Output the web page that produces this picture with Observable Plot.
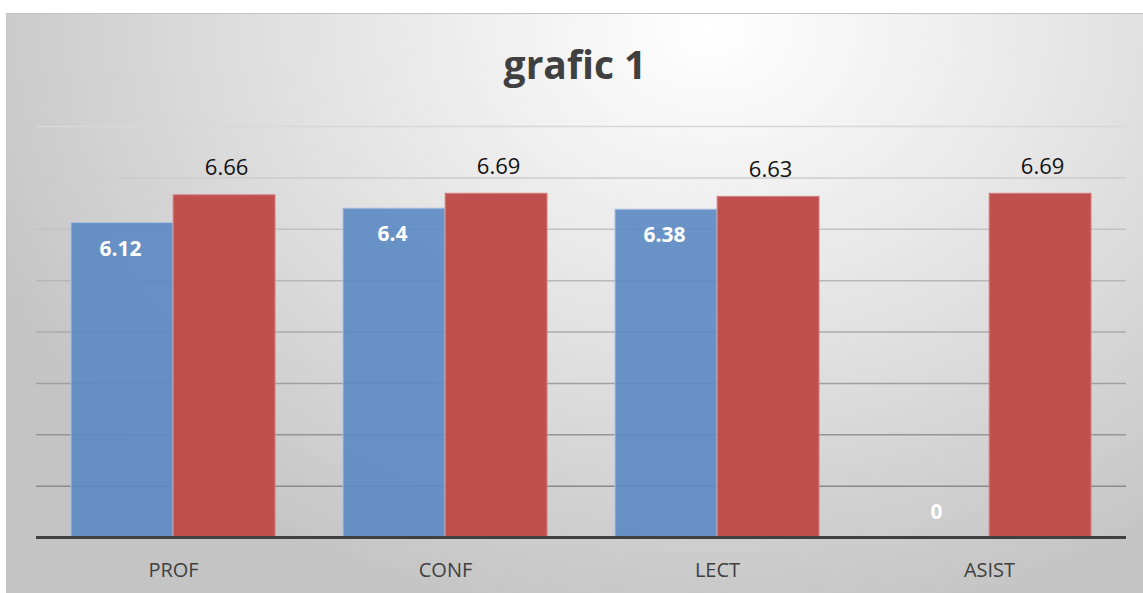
<!DOCTYPE html>
<html>
<head>
<meta charset="utf-8">
<script src="https://cdn.jsdelivr.net/npm/d3@7"></script>
<script src="https://cdn.jsdelivr.net/npm/@observablehq/plot@0.6"></script>
<style>
  html, body { margin: 0; padding: 0; background: #ffffff; width: 1143px; height: 593px; overflow: hidden; }
  #frame {
    position: absolute; left: 6px; top: 13px; width: 1137px; height: 580px; box-sizing: border-box;
    border-top: 1px solid #c4c4c4; border-left: 1px solid #c4c4c4;
    background: radial-gradient(ellipse 70% 105% at 62% 3%, #ffffff 0%, #f3f3f3 22%, #e0e0e0 55%, #c4c4c4 100%);
    overflow: hidden;
  }
  #title {
    height: 86px; box-sizing: border-box; padding-top: 28px; line-height: 44px;
    text-align: center; font-family: "Open Sans", sans-serif; font-weight: 700; font-size: 39px; color: #404040;
  }
  #chart svg { display: block; background: transparent; }
</style>
</head>
<body>
<div id="frame">
  <div id="title">grafic 1</div>
  <div id="chart"></div>
</div>
<script>
const categories = ["PROF", "CONF", "LECT", "ASIST"];
const seriesNames = ["Serie 1", "Serie 2"];
const series1 = [6.12, 6.4, 6.38, 0];
const series2 = [6.66, 6.69, 6.63, 6.69];
const yTicks = [1, 2, 3, 4, 5, 6, 7, 8];

const rows1 = categories.map((c, i) => ({cat: c, series: seriesNames[0], value: series1[i]}));
const rows2 = categories.map((c, i) => ({cat: c, series: seriesNames[1], value: series2[i]}));

const half = 1090 / 4 * 0.75 / 2; // half of band width

const gridColor = d3.interpolateRgb("#8a8a8a", "#d8d8d8");

const chart = Plot.plot({
  width: 1136,
  height: 493,
  marginLeft: 29,
  marginRight: 17,
  marginTop: 26,
  marginBottom: 56,
  style: {fontFamily: "Open Sans, sans-serif", fontSize: "20px", color: "#404040", background: "transparent", overflow: "visible"},
  x: {domain: categories, paddingInner: 0.25, paddingOuter: 0.125, tickSize: 0, tickPadding: 25, label: null},
  y: {domain: [0, 8], axis: null},
  marks: [
    Plot.ruleY(yTicks, {y: d => d, stroke: d => gridColor((d - 1) / 7), strokeWidth: 1.5}),
    Plot.barY(rows1, {x: "cat", y: "value", fill: "#5b8ac3", fillOpacity: 0.9, stroke: "#a9c1e2", strokeWidth: 1, insetRight: half}),
    Plot.barY(rows2, {x: "cat", y: "value", fill: "#c0504d", stroke: "#d47c7a", strokeWidth: 1, insetLeft: half}),
    Plot.ruleY([0], {stroke: "#404040", strokeWidth: 3}),
    Plot.text(rows1.filter(d => d.value > 0), {x: "cat", y: "value", text: d => String(d.value), dx: -half / 2 - 2, dy: 26, fill: "white", fontWeight: "bold", fontSize: 21}),
    Plot.text(rows1.filter(d => d.value === 0), {x: "cat", y: "value", text: d => String(d.value), dx: -half / 2 - 2, dy: -25, fill: "white", fontWeight: "bold", fontSize: 21}),
    Plot.text(rows2, {x: "cat", y: "value", text: d => String(d.value), dx: half / 2 + 2, dy: -27, fill: "#111111", fontSize: 22})
  ]
});
document.getElementById("chart").appendChild(chart);
</script>
</body>
</html>
